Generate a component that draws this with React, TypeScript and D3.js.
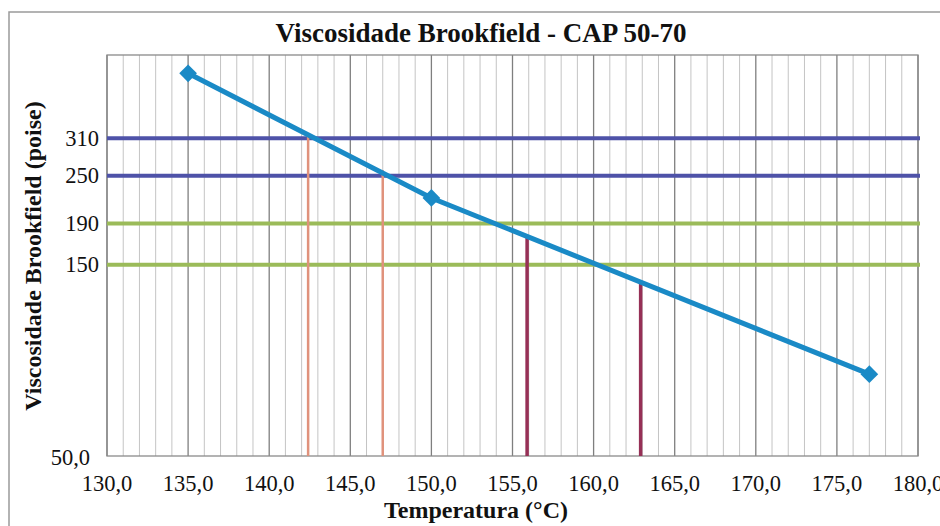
import React from "react";
import * as d3 from "d3";

const temps = [135, 150, 177];
const viscosities = [450, 220, 80];
const limitValues = [310, 250, 190, 150];
const limitColors = ["#4e52a8", "#4e52a8", "#9bbb59", "#9bbb59"];
const markTemps = [142.4, 147.0, 155.9, 162.9];
const markTops = [319, 258, 176, 136];
const markColors = ["#e0927c", "#e0927c", "#963056", "#963056"];
const xTicks = [130, 135, 140, 145, 150, 155, 160, 165, 170, 175, 180];
const yTickLabels = ["50,0", "150", "190", "250", "310"];
const yTickValues = [50, 150, 190, 250, 310];

const W = 940;
const H = 526;
const L = 107, R = 918, T = 55, B = 456;

export default function App() {
  const x = d3.scaleLinear().domain([130, 180]).range([L, R]);
  const y = d3.scaleLog().domain([50, 500]).range([B, T]);
  const minor = d3.range(130, 181, 1);
  const line = d3
    .line<number>()
    .x((_, i) => x(temps[i]))
    .y((v) => y(v));
  const serif = "'Liberation Serif', 'Times New Roman', serif";
  const diamond = d3.symbol().type(d3.symbolDiamond2 ?? d3.symbolDiamond).size(200)() as string;
  return (
    <svg
      width={W}
      height={H}
      style={{ position: "absolute", left: 0, top: 0, background: "#fff" }}
      fontFamily={serif}
    >
      <rect x={9} y={12} width={940} height={520} fill="#fff" stroke="#9a9a9a" strokeWidth={1.5} />
      <text x={481} y={42} textAnchor="middle" fontSize={27} fontWeight="bold" fill="#111">
        Viscosidade Brookfield - CAP 50-70
      </text>
      {minor.map((t) => (
        <line
          key={"g" + t}
          x1={x(t)}
          x2={x(t)}
          y1={T}
          y2={B}
          stroke={t % 5 === 0 ? "#7f7f7f" : "#c4c4c4"}
          strokeWidth={t % 5 === 0 ? 1.3 : 1}
        />
      ))}
      <rect x={L} y={T} width={R - L} height={B - T} fill="none" stroke="#8a8a8a" strokeWidth={1.3} />
      {limitValues.map((v, i) => (
        <line key={"h" + i} x1={L} x2={R + 2} y1={y(v)} y2={y(v)} stroke={limitColors[i]} strokeWidth={4} />
      ))}
      {markTemps.map((t, i) => (
        <line
          key={"v" + i}
          x1={x(t)}
          x2={x(t)}
          y1={B}
          y2={y(markTops[i])}
          stroke={markColors[i]}
          strokeWidth={i < 2 ? 2.5 : 3.5}
        />
      ))}
      <path d={line(viscosities) ?? ""} fill="none" stroke="#1a8ac6" strokeWidth={5} />
      {temps.map((t, i) => (
        <path key={"m" + i} d={diamond} transform={`translate(${x(t)},${y(viscosities[i])})`} fill="#1a8ac6" />
      ))}
      {yTickValues.map((v, i) => (
        <text
          key={"yt" + i}
          x={i === 0 ? 90 : 99}
          y={y(v) + (i === 0 ? 1 : 0)}
          textAnchor="end"
          dominantBaseline="central"
          fontSize={22.5}
          fill="#111"
        >
          {yTickLabels[i]}
        </text>
      ))}
      {xTicks.map((t) => (
        <text key={"xt" + t} x={x(t)} y={491} textAnchor="middle" fontSize={22.5} fill="#111">
          {t.toFixed(1).replace(".", ",")}
        </text>
      ))}
      <text x={476} y={518} textAnchor="middle" fontSize={24} fontWeight="bold" fill="#111">
        Temperatura (°C)
      </text>
      <text
        transform={`translate(41,256) rotate(-90)`}
        textAnchor="middle"
        fontSize={24}
        fontWeight="bold"
        fill="#111"
      >
        Viscosidade Brookfield (poise)
      </text>
    </svg>
  );
}
